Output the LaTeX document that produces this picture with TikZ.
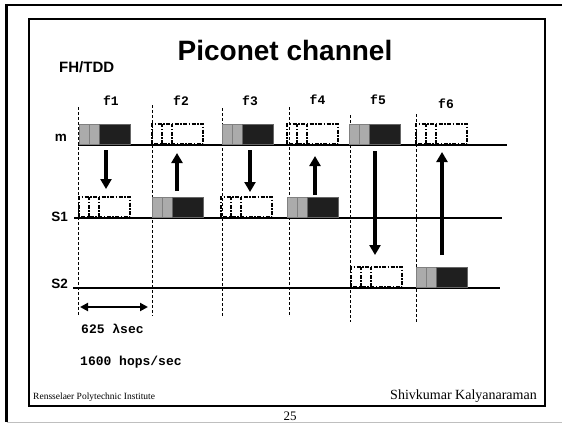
\documentclass[tikz,border=0pt]{standalone}
\usepackage{fontspec}
\setmainfont{Liberation Serif}
\newfontfamily\sansb{Liberation Sans}
\newfontfamily\monob{Liberation Mono}
\usetikzlibrary{arrows.meta}
\tikzset{
  hline/.style={line width=2.3pt},
  vdash/.style={line width=0.8pt, dash pattern=on 3pt off 2pt},
  grseg/.style={fill=black!33, draw=black!50, line width=0.6pt},
  bkseg/.style={fill=black!88, draw=black!60, line width=0.6pt},
  epk/.style={line width=1.5pt, dash pattern=on 4pt off 1.5pt on 1.5pt off 1.5pt},
  arr/.style={line width=3.2pt, -{Triangle[width=11pt,length=10pt]}},
  darr/.style={line width=2.2pt, {Triangle[width=8pt,length=8pt]}-{Triangle[width=8pt,length=8pt]}},
  lbl/.style={inner sep=0pt, font={\sansb\bfseries\fontsize{13.5}{15}\selectfont}},
  flbl/.style={inner sep=0pt, anchor=base, font={\monob\bfseries\fontsize{13}{15}\selectfont}},
  mono/.style={inner sep=0pt, anchor=base west, font={\monob\bfseries\fontsize{13}{15}\selectfont}},
}
\newcommand\fullpkt[2]{%
  \draw[grseg] (#1,#2) rectangle ++(10,-20);
  \draw[grseg] (#1+10,#2) rectangle ++(10,-20);
  \draw[bkseg] (#1+20,#2) rectangle ++(31,-20);}
\newcommand\emptypkt[2]{%
  \draw[epk] (#1,#2) rectangle ++(51,-20);
  \draw[epk] (#1+10,#2) -- ++(0,-20);
  \draw[epk] (#1+20,#2) -- ++(0,-20);}
\begin{document}
\begin{tikzpicture}[x=1pt,y=-1pt]
\useasboundingbox (0,0) rectangle (562,424);
% page frames
\draw[line width=2.5pt] (562,5) -- (6.5,5) -- (6.5,422);
\draw[black!25, line width=1pt] (6.5,422) -- (562,422);
\draw[line width=1.2pt] (29,19) rectangle (545,406);
% title
\node[anchor=base, inner sep=0pt, font={\sansb\bfseries\fontsize{28}{30}\selectfont}] (title) at (285,60) {Piconet channel};
\node[anchor=base west, inner sep=0pt, font={\sansb\bfseries\fontsize{15}{17}\selectfont}] (fh) at (59,72) {FH/TDD};
% frequency labels
\node[flbl] (f1) at (111,105) {f1};
\node[flbl] (f2) at (181,105) {f2};
\node[flbl] (f3) at (250,105) {f3};
\node[flbl] (f4) at (317.5,104) {f4};
\node[flbl] (f5) at (378,104) {f5};
\node[flbl] (f6) at (446,108) {f6};
% slot boundaries
\draw[vdash] (78,107) -- (78,316);
\draw[vdash] (152,105) -- (152,316);
\draw[vdash] (222,108) -- (222,316);
\draw[vdash] (289,107) -- (289,316);
\draw[vdash] (350,115) -- (350,322);
\draw[vdash] (416,114) -- (416,322);
% time lines
\node[lbl, anchor=base east] (m) at (67,141.5) {m};
\node[lbl, anchor=base east] (s1) at (68,221.5) {S1};
\node[lbl, anchor=base east] (s2) at (68,288.5) {S2};
\coordinate (ml) at (78,145); \coordinate (mr) at (507,145);
\coordinate (s1l) at (74,218); \coordinate (s1r) at (502,218);
\coordinate (s2l) at (73,288); \coordinate (s2r) at (500,288);
\draw[hline] (ml) -- (mr);
\draw[hline] (s1l) -- (s1r);
\draw[hline] (s2l) -- (s2r);
% packets
\fullpkt{79}{144}
\emptypkt{152}{144}
\fullpkt{222}{144}
\emptypkt{287}{144}
\fullpkt{349}{144}
\emptypkt{416}{144}
\emptypkt{79}{217}
\fullpkt{152}{217}
\emptypkt{221}{217}
\fullpkt{287}{217}
\emptypkt{351}{287}
\fullpkt{416}{287}
% transmissions
\coordinate (a1s) at (106,150); \coordinate (a1e) at (106,189);
\coordinate (a2s) at (177,191); \coordinate (a2e) at (177,153);
\coordinate (a3s) at (250,150); \coordinate (a3e) at (250,192);
\coordinate (a4s) at (315,195); \coordinate (a4e) at (315,156);
\coordinate (a5s) at (375,151); \coordinate (a5e) at (375,255);
\coordinate (a6s) at (442,255); \coordinate (a6e) at (442,152);
\draw[arr] (a1s) -- (a1e);
\draw[arr] (a2s) -- (a2e);
\draw[arr] (a3s) -- (a3e);
\draw[arr] (a4s) -- (a4e);
\draw[arr] (a5s) -- (a5e);
\draw[arr] (a6s) -- (a6e);
% slot width
\coordinate (d1) at (80,307); \coordinate (d2) at (148,307);
\draw[darr] (d1) -- (d2);
\node[mono] (dur) at (81,333) {625 λsec};
\node[mono] (hops) at (80,365) {1600 hops/sec};
% footer
\node[anchor=base west, inner sep=0pt, font={\fontsize{9.5}{11}\selectfont}] (rpi) at (33,399) {Rensselaer Polytechnic Institute};
\node[anchor=base east, inner sep=0pt, font={\fontsize{14}{16}\selectfont}] (auth) at (537,399) {Shivkumar Kalyanaraman};
\node[anchor=base, inner sep=0pt, font={\fontsize{13}{15}\selectfont}] (pg) at (290,420) {25};
\end{tikzpicture}
\end{document}
